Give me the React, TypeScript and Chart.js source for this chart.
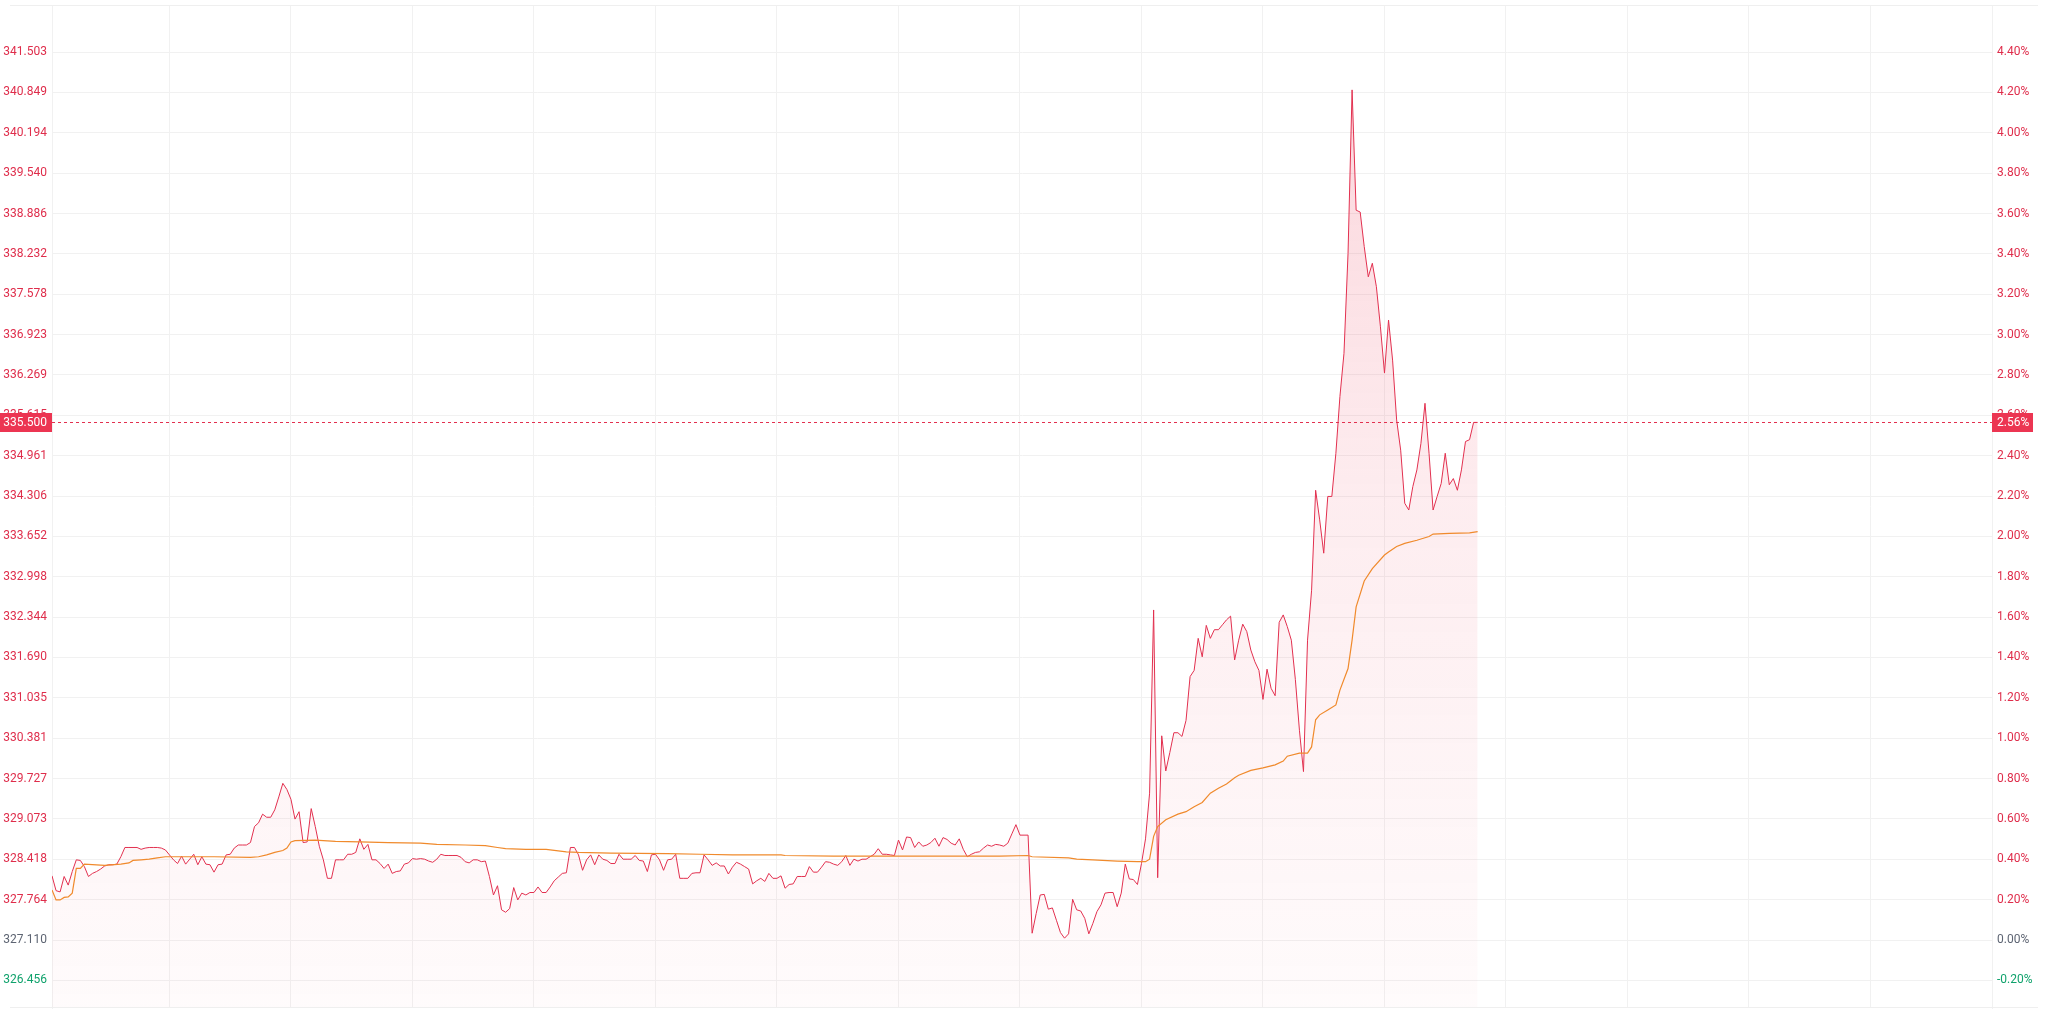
import React, { useEffect, useRef } from 'react';
import { Chart, registerables } from 'chart.js';

Chart.register(...registerables);

// ---- data ----
const basePrice = 327.11;

// one value per minute index (0..352)
const priceValues = [
  328.15, 327.91, 327.89, 328.14, 328.00, 328.22, 328.41, 328.40, 328.30, 328.14,
  328.19, 328.22, 328.26, 328.31, 328.33, 328.33, 328.34, 328.46, 328.61, 328.61,
  328.61, 328.61, 328.58, 328.60, 328.61, 328.61, 328.61, 328.60, 328.57, 328.49,
  328.41, 328.35, 328.47, 328.34, 328.42, 328.50, 328.33, 328.46, 328.34, 328.33,
  328.21, 328.33, 328.34, 328.49, 328.50, 328.60, 328.65, 328.65, 328.65, 328.69,
  328.95, 329.01, 329.15, 329.10, 329.10, 329.22, 329.43, 329.65, 329.55, 329.39,
  329.07, 329.19, 328.69, 328.70, 329.24, 328.95, 328.63, 328.41, 328.11, 328.11,
  328.41, 328.41, 328.41, 328.50, 328.50, 328.53, 328.75, 328.58, 328.66, 328.41,
  328.41, 328.35, 328.27, 328.34, 328.19, 328.22, 328.23, 328.34, 328.36, 328.43,
  328.42, 328.43, 328.42, 328.39, 328.37, 328.42, 328.50, 328.48, 328.48, 328.48,
  328.48, 328.45, 328.38, 328.36, 328.41, 328.41, 328.38, 328.39, 328.14, 327.84,
  327.99, 327.60, 327.56, 327.62, 327.96, 327.76, 327.87, 327.84, 327.88, 327.88,
  327.97, 327.88, 327.88, 327.97, 328.07, 328.13, 328.19, 328.20, 328.61, 328.61,
  328.49, 328.24, 328.41, 328.49, 328.33, 328.49, 328.42, 328.40, 328.35, 328.35,
  328.50, 328.42, 328.42, 328.42, 328.48, 328.40, 328.39, 328.22, 328.49, 328.50,
  328.41, 328.24, 328.41, 328.42, 328.50, 328.11, 328.11, 328.11, 328.19, 328.20,
  328.20, 328.49, 328.41, 328.32, 328.36, 328.31, 328.31, 328.18, 328.29, 328.37,
  328.34, 328.30, 328.26, 328.02, 328.07, 328.11, 328.06, 328.19, 328.11, 328.11,
  328.15, 327.95, 328.01, 328.02, 328.14, 328.14, 328.14, 328.30, 328.21, 328.21,
  328.29, 328.38, 328.37, 328.34, 328.32, 328.38, 328.48, 328.32, 328.42, 328.39,
  328.42, 328.42, 328.46, 328.50, 328.59, 328.50, 328.50, 328.49, 328.48, 328.73,
  328.57, 328.78, 328.77, 328.61, 328.70, 328.63, 328.65, 328.69, 328.76, 328.63,
  328.77, 328.74, 328.68, 328.65, 328.75, 328.58, 328.46, 328.50, 328.53, 328.54,
  328.60, 328.65, 328.63, 328.66, 328.65, 328.63, 328.68, 328.83, 328.98, 328.81,
  328.81, 328.81, 327.22, 327.54, 327.84, 327.85, 327.61, 327.63, 327.43, 327.23,
  327.14, 327.21, 327.77, 327.60, 327.58, 327.46, 327.21, 327.38, 327.57, 327.68,
  327.87, 327.88, 327.88, 327.65, 327.87, 328.34, 328.10, 328.09, 328.01, 328.35,
  328.75, 329.49, 332.46, 328.12, 330.42, 329.85, 330.15, 330.47, 330.47, 330.41,
  330.67, 331.38, 331.48, 332.00, 331.70, 332.21, 332.00, 332.14, 332.14, 332.22,
  332.30, 332.36, 331.65, 331.97, 332.23, 332.11, 331.81, 331.62, 331.48, 331.01,
  331.50, 331.19, 331.07, 332.26, 332.38, 332.19, 331.97, 331.33, 330.51, 329.84,
  331.97, 332.78, 334.40, 333.92, 333.38, 334.30, 334.30, 335.00, 335.92, 336.62,
  338.24, 340.89, 338.94, 338.91, 338.35, 337.86, 338.08, 337.70, 337.05, 336.30,
  337.16, 336.51, 335.54, 335.05, 334.19, 334.08, 334.46, 334.73, 335.16, 335.81,
  335.00, 334.08, 334.30, 334.51, 335.00, 334.49, 334.59, 334.40, 334.73, 335.19,
  335.22, 335.50, 335.50,
];

// average price line, read at the points where it bends
const avgIndex = [
  0, 1, 2, 3, 4, 5, 6, 7, 8, 13, 17, 19, 20, 22, 24, 26, 28, 40, 49, 51,
  53, 55, 57, 58, 59, 60, 65, 70, 76, 83, 91, 95, 102, 107, 110, 112, 117, 122, 127, 130,
  138, 152, 160, 168, 180, 181, 193, 234, 241, 242, 251, 253, 257, 263, 268, 270, 271, 272, 273, 275,
  278, 280, 282, 284, 286, 288, 290, 292, 293, 296, 299, 302, 304, 305, 308, 310, 311, 312, 313, 315,
  317, 318, 320, 321, 322, 324, 326, 329, 330, 332, 334, 337, 340, 341, 345, 350, 352,
];
const avgPrice = [
  327.92, 327.76, 327.76, 327.80, 327.81, 327.87, 328.27, 328.27, 328.34, 328.32, 328.34, 328.36, 328.40, 328.41, 328.42, 328.44, 328.46, 328.46, 328.45, 328.46,
  328.49, 328.53, 328.56, 328.60, 328.70, 328.72, 328.73, 328.71, 328.70, 328.69, 328.68, 328.66, 328.65, 328.64, 328.61, 328.59, 328.58, 328.58, 328.54, 328.53,
  328.52, 328.51, 328.50, 328.49, 328.49, 328.48, 328.47, 328.47, 328.48, 328.46, 328.44, 328.42, 328.41, 328.39, 328.38, 328.38, 328.42, 328.79, 328.95, 329.06,
  329.15, 329.19, 329.27, 329.34, 329.49, 329.57, 329.64, 329.74, 329.78, 329.86, 329.90, 329.95, 330.01, 330.09, 330.14, 330.14, 330.24, 330.68, 330.76, 330.84,
  330.92, 331.16, 331.51, 331.97, 332.51, 332.93, 333.13, 333.35, 333.40, 333.49, 333.54, 333.59, 333.65, 333.69, 333.70, 333.71, 333.73,
];

// axis ticks
const priceTicks = [
  326.456, 327.110, 327.764, 328.418, 329.073, 329.727, 330.381, 331.035, 331.690, 332.344,
  332.998, 333.652, 334.306, 334.961, 335.615, 336.269, 336.923, 337.578, 338.232, 338.886,
  339.540, 340.194, 340.849, 341.503,
];
const percentTicks = [
  '-0.20%', '0.00%', '0.20%', '0.40%', '0.60%', '0.80%', '1.00%', '1.20%', '1.40%', '1.60%',
  '1.80%', '2.00%', '2.20%', '2.40%', '2.60%', '2.80%', '3.00%', '3.20%', '3.40%', '3.60%',
  '3.80%', '4.00%', '4.20%', '4.40%',
];
const timeGridTicks = [29, 59, 89, 119, 149, 179, 209, 239, 269, 299, 329, 359, 389, 419, 449, 479];

const X_MIN = 0;
const X_MAX = 479;
const Y_MIN = 326.008;
const Y_MAX = 342.266;

// ---- styles ----
const RED = '#e2304f';
const LABEL_RED = '#df2d4b';
const GREEN = '#10a26c';
const GRAY = '#5d6472';
const ORANGE = '#f08a2c';
const BOX = '#ec3552';
const GRID = '#f1f1f1';
const FONT = 'Roboto, "Noto Sans", sans-serif';

function tickColor(ctx: any) {
  const v = ctx.tick ? ctx.tick.value : 0;
  if (Math.abs(v - basePrice) < 1e-6) return GRAY;
  return v > basePrice ? LABEL_RED : GREEN;
}

function noVerticalPadding(s: any, width: number) {
  s.width = width;
  s.paddingTop = 0;
  s.paddingBottom = 0;
}

const lastPricePlugin = {
  id: 'lastPrice',
  afterDraw(chart: any) {
    const { ctx, chartArea, scales } = chart;
    const last = priceValues[priceValues.length - 1];
    const pct = ((last / basePrice - 1) * 100).toFixed(2) + '%';
    const y = Math.round(scales.y.getPixelForValue(last));
    ctx.save();
    // outer frame lines
    ctx.strokeStyle = '#efefef';
    ctx.lineWidth = 1;
    ctx.beginPath();
    ctx.moveTo(10, Math.round(chartArea.top) + 0.5);
    ctx.lineTo(chart.width - 10, Math.round(chartArea.top) + 0.5);
    ctx.moveTo(10, Math.round(chartArea.bottom) - 0.5);
    ctx.lineTo(chart.width - 10, Math.round(chartArea.bottom) - 0.5);
    ctx.stroke();
    // dashed last price line
    ctx.strokeStyle = RED;
    ctx.setLineDash([3, 3]);
    ctx.beginPath();
    ctx.moveTo(chartArea.left, y + 0.5);
    ctx.lineTo(chartArea.right, y + 0.5);
    ctx.stroke();
    ctx.setLineDash([]);
    // boxes
    ctx.fillStyle = BOX;
    ctx.fillRect(0, y - 9, chartArea.left, 19);
    ctx.fillRect(chartArea.right, y - 9, 41, 19);
    ctx.fillStyle = '#ffffff';
    ctx.font = '12px ' + FONT;
    ctx.textBaseline = 'middle';
    ctx.textAlign = 'right';
    ctx.fillText(last.toFixed(3), chartArea.left - 5, y + 1);
    ctx.textAlign = 'left';
    ctx.fillText(pct, chartArea.right + 5, y + 1);
    ctx.restore();
  },
};

export default function App() {
  const canvasRef = useRef<HTMLCanvasElement>(null);

  useEffect(() => {
    document.body.style.margin = '0';
    const canvas = canvasRef.current;
    if (!canvas) return;

    const pricePoints = priceValues.map((v, i) => ({ x: i, y: v }));
    const avgPoints = avgIndex.map((x, i) => ({ x, y: avgPrice[i] }));

    const chart = new Chart(canvas, {
      type: 'line',
      data: {
        datasets: [
          {
            label: 'avg',
            data: avgPoints,
            borderColor: ORANGE,
            borderWidth: 1.2,
            pointRadius: 0,
            tension: 0,
            fill: false,
            order: 0,
          },
          {
            label: 'price',
            data: pricePoints,
            borderColor: RED,
            borderWidth: 1,
            pointRadius: 0,
            tension: 0,
            fill: 'start',
            order: 1,
            backgroundColor: (c: any) => {
              const area = c.chart.chartArea;
              if (!area) return 'rgba(236,53,82,0.08)';
              const g = c.chart.ctx.createLinearGradient(0, area.top, 0, area.bottom);
              g.addColorStop(0, 'rgba(236,53,82,0.22)');
              g.addColorStop(0.5, 'rgba(236,53,82,0.09)');
              g.addColorStop(1, 'rgba(236,53,82,0.02)');
              return g;
            },
          },
        ],
      },
      options: {
        animation: false,
        responsive: true,
        maintainAspectRatio: false,
        devicePixelRatio: 1,
        layout: { padding: { top: 5, bottom: 1, left: 0, right: 0 } },
        plugins: {
          legend: { display: false },
          tooltip: { enabled: false },
        },
        scales: {
          x: {
            type: 'linear',
            min: X_MIN,
            max: X_MAX,
            afterBuildTicks: (s: any) => {
              s.ticks = timeGridTicks.map((v) => ({ value: v }));
            },
            ticks: { display: false },
            grid: { color: GRID, drawTicks: false },
            border: { display: false },
            afterFit: (s: any) => {
              s.height = 0;
              s.paddingLeft = 0;
              s.paddingRight = 0;
            },
          },
          y: {
            type: 'linear',
            position: 'left',
            min: Y_MIN,
            max: Y_MAX,
            afterBuildTicks: (s: any) => {
              s.ticks = priceTicks.map((v) => ({ value: v }));
            },
            ticks: {
              padding: 5,
              font: { family: FONT, size: 12 },
              color: tickColor,
              callback: (v: any) => Number(v).toFixed(3),
            },
            grid: { color: GRID, drawTicks: false },
            border: { display: true, color: GRID },
            afterFit: (s: any) => noVerticalPadding(s, 52),
          },
          y1: {
            type: 'linear',
            position: 'right',
            min: Y_MIN,
            max: Y_MAX,
            afterBuildTicks: (s: any) => {
              s.ticks = priceTicks.map((v) => ({ value: v }));
            },
            ticks: {
              padding: 5,
              font: { family: FONT, size: 12 },
              color: tickColor,
              callback: (_v: any, idx: number) => percentTicks[idx],
            },
            grid: { display: false, drawTicks: false },
            border: { display: true, color: GRID },
            afterFit: (s: any) => noVerticalPadding(s, 56),
          },
        },
      },
      plugins: [lastPricePlugin],
    } as any);

    return () => chart.destroy();
  }, []);

  return (
    <div style={{ position: 'fixed', left: 0, top: 0, width: '2048px', height: '1009px', background: '#ffffff' }}>
      <canvas ref={canvasRef} />
    </div>
  );
}
